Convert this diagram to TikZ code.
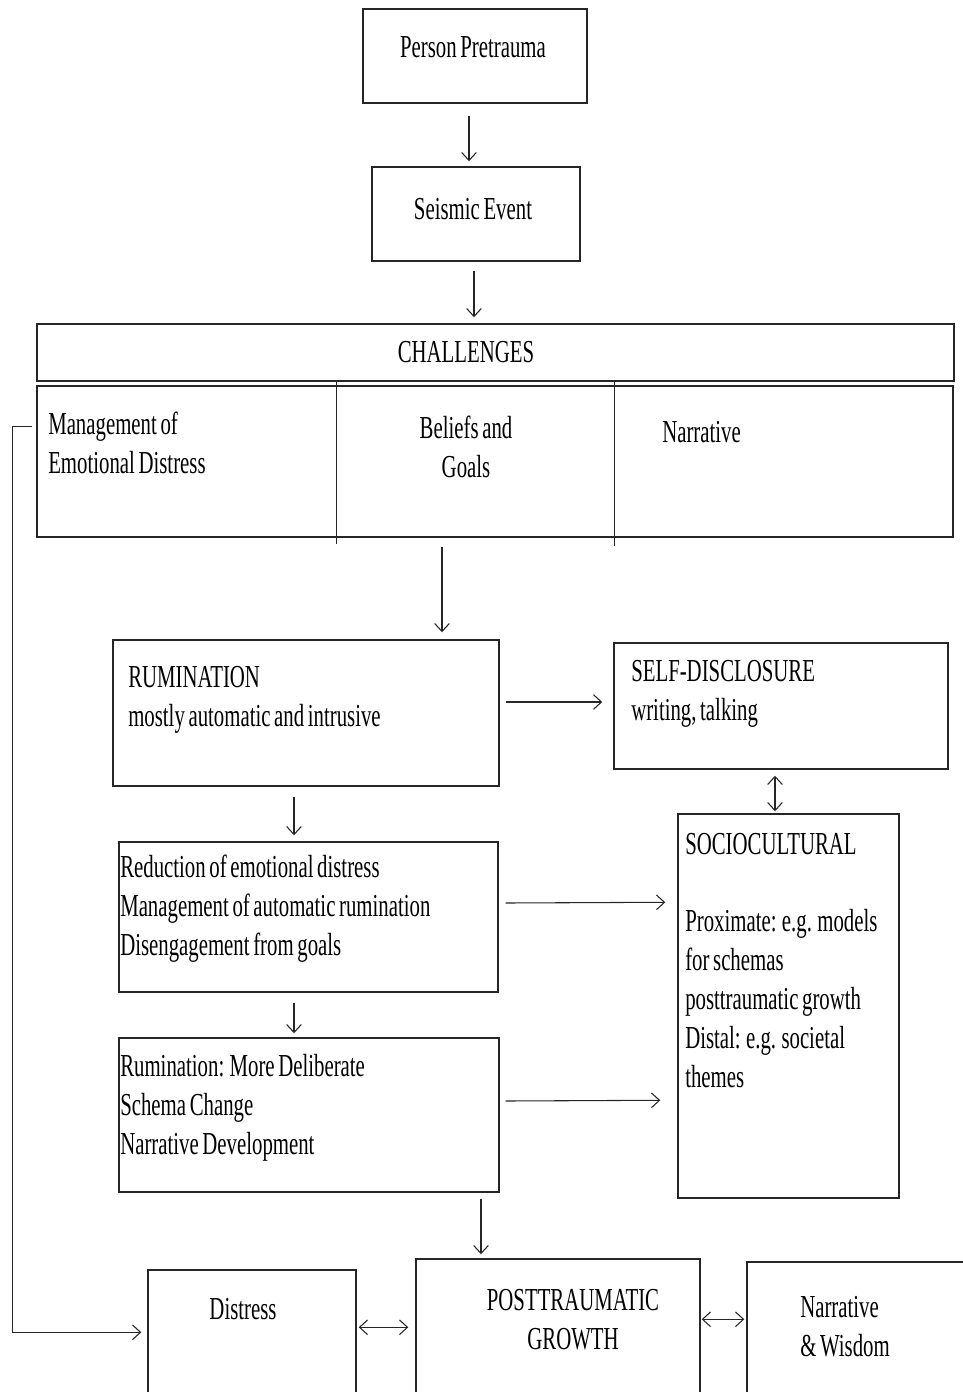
\documentclass[tikz,border=0pt]{standalone}
\usepackage{fontspec}
\setmainfont{Liberation Serif}[FakeStretch=0.65,WordSpace=0.7]
\usetikzlibrary{fit,calc,arrows.meta}
\begin{document}
\begin{tikzpicture}[x=0.75pt,y=-0.75pt,
  box/.style={draw=black!85, line width=1.1pt, inner sep=0pt, fit={#1}},
  txt/.style={inner sep=0pt, font=\fontsize{24}{29.25}\selectfont},
  lt/.style={txt, anchor=base west, align=left},
  ct/.style={txt, anchor=base, align=center},
  arr/.style={draw=black!85, line width=0.8pt, -{Straight Barb[length=6pt,width=11pt]}},
  darr/.style={draw=black!85, line width=0.8pt, {Straight Barb[length=6pt,width=11pt]}-{Straight Barb[length=6pt,width=11pt]}}]
\fill[white] (0,0) rectangle (963,1392);
\clip (0,0) rectangle (963,1392);
\useasboundingbox (0,0) rectangle (963,1392);
% boxes
\node[box={(363,9)(587,103)}] (pp) {};
\node[box={(372,167)(580,261)}] (se) {};
\node[box={(37,324)(954,381)}] (ch) {};
\node[box={(37,386)(953,537)}] (cols) {};
\node[box={(113,640)(499,786)}] (rum) {};
\node[box={(614,643)(948,769)}] (sd) {};
\node[box={(678,814)(899,1198)}] (soc) {};
\node[box={(119,842)(498,992)}] (red) {};
\node[box={(119,1038)(499,1192)}] (rd) {};
\node[box={(148,1270)(356,1420)}] (dis) {};
\node[box={(416,1259)(700,1420)}] (ptg) {};
\node[box={(747,1262)(1000,1420)}] (nw) {};
% column dividers
\draw[draw=black!85, line width=1.1pt] ($(cols.north west)+(300,-4)$) -- ($(cols.south west)+(300,6)$);
\draw[draw=black!85, line width=1.1pt] ($(cols.north west)+(578,-4)$) -- ($(cols.south west)+(578,8)$);
% texts (anchor = baseline of the last line)
\node[ct] (tpp) at (473,57) {Person Pretrauma};
\node[ct] (tse) at (473,219) {Seismic Event};
\node[ct] (tch) at (466,362) {CHALLENGES};
\node[lt] (tm) at (48,473) {Management of\\Emotional Distress};
\node[ct] (tb) at (466,477) {Beliefs and\\Goals};
\node[lt] (tn) at (662,442) {Narrative};
\node[lt] (tr) at (128,726) {RUMINATION\\mostly automatic and intrusive};
\node[lt] (tsd) at (631,720) {SELF-DISCLOSURE\\writing, talking};
\node[lt] (tsoc) at (685,854) {SOCIOCULTURAL};
\node[lt] (tprox) at (685,1087) {Proximate: e.g. models\\for schemas\\posttraumatic growth\\Distal: e.g. societal\\themes};
\node[lt] (tred) at (120,955) {Reduction of emotional distress\\Management of automatic rumination\\Disengagement from goals};
\node[lt] (trd) at (120,1154) {Rumination: More Deliberate\\Schema Change\\Narrative Development};
\node[ct] (tdis) at (243,1319) {Distress};
\node[ct] (tptg) at (573,1349) {POSTTRAUMATIC\\GROWTH};
\node[lt] (tnw) at (800,1356) {Narrative\\\& Wisdom};
% arrows
\draw[arr] ($(pp.south)+(-6,12)$) -- ($(se.north)+(-7,-5)$);
\draw[arr] ($(se.south)+(-2,9)$) -- ($(ch.north)+(-21.5,-6)$);
\draw[arr] ($(cols.south)+(-53,9)$) -- ($(rum.north)+(136,-7)$);
\draw[arr] ($(rum.east)+(6,-11)$) -- ($(sd.west)+(-11,-4)$);
\draw[darr] ($(sd.south)+(-6,6)$) -- ($(soc.north)+(-13.5,-2)$);
\draw[arr] ($(rum.south)+(-12,10)$) -- ($(red.north)+(-14.5,-6)$);
\draw[arr] ($(red.east)+(7,-14)$) -- ($(soc.north west)+(-12,89)$);
\draw[arr] ($(red.south)+(-14.5,10)$) -- ($(rd.north)+(-15,-4)$);
\draw[arr] ($(rd.east)+(6,-14)$) -- ($(soc.north west)+(-17,287)$);
\draw[arr] ($(rd.south)+(172,6)$) -- ($(ptg.north)+(-77,-4)$);
\draw[darr] ($(dis.north east)+(2,58)$) -- ($(ptg.north west)+(-7,69)$);
\draw[darr] ($(ptg.north east)+(1,61)$) -- ($(nw.north west)+(-2,58)$);
\draw[arr] ($(cols.north west)+(-4,41)$) -- ++(-20,0) |- ($(dis.north west)+(-6,63)$);
\end{tikzpicture}
\end{document}
